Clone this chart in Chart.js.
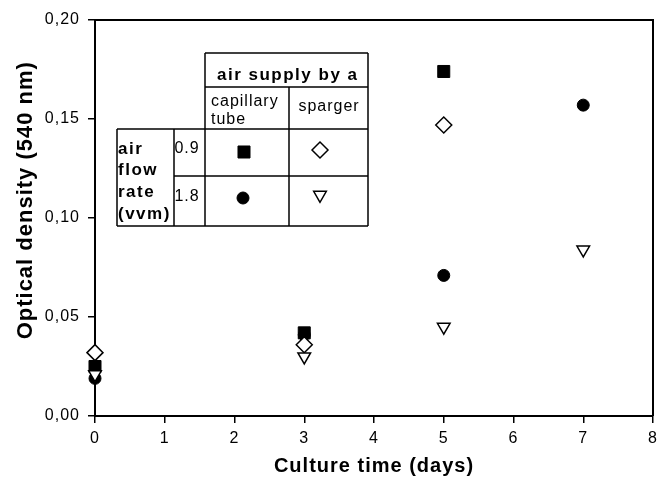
<!DOCTYPE html>
<html>
<head>
<meta charset="utf-8">
<script src="https://cdn.jsdelivr.net/npm/chart.js@4/dist/chart.umd.min.js"></script>
<style>
  html, body { margin: 0; padding: 0; background: #fff; }
  #wrap { width: 668px; height: 482px; }
</style>
</head>
<body>
<div id="wrap"><canvas id="odChart" width="668" height="482"></canvas></div>
<script>
// --- DATA ---
const days = [0, 3, 5, 7];
// 0.9 vvm, capillary tube (filled square)
const capillary09 = [0.025, 0.042, 0.174, null];
// 0.9 vvm, sparger (open diamond)
const sparger09 = [0.032, 0.036, 0.147, null];
// 1.8 vvm, capillary tube (filled circle) - day 3 hidden behind the square
const capillary18 = [0.019, 0.041, 0.071, 0.157];
// 1.8 vvm, sparger (open triangle down)
const sparger18 = [0.021, 0.030, 0.045, 0.084];

const xTicks = [0, 1, 2, 3, 4, 5, 6, 7, 8];
const yTicks = [0, 0.05, 0.10, 0.15, 0.20];

const headerLabel = "air supply by a";
const columnLabels = [["capillary", "tube"], ["sparger"]];
const rowTitle = ["air", "flow", "rate", "(vvm)"];
const rowLabels = ["0.9", "1.8"];

const FONT = "'Liberation Sans', Arial, sans-serif";

function points(vals) {
  return days
    .map((d, i) => ({ x: d, y: vals[i] }))
    .filter((p) => p.y !== null);
}

// marker styles, keyed by row/column of the legend table
const markers = {
  sq: { pointStyle: "rect", radius: 8.5, rotation: 0, fill: "#000", borderWidth: 1 },
  dia: { pointStyle: "rectRot", radius: 8, rotation: 0, fill: "#fff", borderWidth: 1.5 },
  circ: { pointStyle: "circle", radius: 6, rotation: 0, fill: "#000", borderWidth: 1 },
  tri: { pointStyle: "triangle", radius: 7.3, rotation: 180, fill: "#fff", borderWidth: 1.5 },
};

function ds(label, vals, m) {
  return {
    label,
    data: points(vals),
    pointStyle: m.pointStyle,
    pointRadius: m.radius,
    pointHoverRadius: m.radius,
    rotation: m.rotation,
    backgroundColor: m.fill,
    borderColor: "#000",
    pointBorderWidth: m.borderWidth,
    borderWidth: m.borderWidth,
    showLine: false,
    clip: false,
  };
}

// --- PLUGINS ---
const spacing = {
  id: "spacing",
  beforeUpdate(chart) { chart.ctx.letterSpacing = "1px"; },
  beforeDraw(chart) { chart.ctx.letterSpacing = "1px"; },
};

const frame = {
  id: "frame",
  afterDraw(chart) {
    const { ctx, chartArea: a } = chart;
    ctx.save();
    ctx.strokeStyle = "#000";
    ctx.lineWidth = 2;
    ctx.beginPath();
    ctx.moveTo(a.left, a.top);
    ctx.lineTo(a.right, a.top);
    ctx.lineTo(a.right, a.bottom);
    ctx.stroke();
    ctx.restore();
  },
};

const legendTable = {
  id: "legendTable",
  afterDraw(chart) {
    const ctx = chart.ctx;
    const X = [117, 174, 205, 289, 368];
    const Y = [53, 87, 129, 176, 226];
    ctx.save();
    ctx.strokeStyle = "#000";
    ctx.lineWidth = 1.5;
    const seg = (x1, y1, x2, y2) => {
      ctx.beginPath();
      ctx.moveTo(x1, y1);
      ctx.lineTo(x2, y2);
      ctx.stroke();
    };
    seg(X[2], Y[0], X[4], Y[0]);
    seg(X[2], Y[1], X[4], Y[1]);
    seg(X[0], Y[2], X[4], Y[2]);
    seg(X[1], Y[3], X[4], Y[3]);
    seg(X[0], Y[4], X[4], Y[4]);
    seg(X[0], Y[2], X[0], Y[4]);
    seg(X[1], Y[2], X[1], Y[4]);
    seg(X[2], Y[0], X[2], Y[4]);
    seg(X[3], Y[1], X[3], Y[4]);
    seg(X[4], Y[0], X[4], Y[4]);

    ctx.fillStyle = "#000";
    ctx.textBaseline = "middle";
    ctx.textAlign = "left";

    ctx.letterSpacing = "1.5px";
    ctx.font = "bold 17px " + FONT;
    ctx.fillText(headerLabel, 217, 75);

    ctx.letterSpacing = "1px";
    ctx.font = "16px " + FONT;
    columnLabels[0].forEach((t, i) => ctx.fillText(t, 211, 102 + i * 18));
    ctx.textAlign = "center";
    ctx.fillText(columnLabels[1][0], 329, 107);
    rowLabels.forEach((t, i) => ctx.fillText(t, 187, 149 + i * 48));

    ctx.textAlign = "left";
    ctx.letterSpacing = "1.5px";
    ctx.font = "bold 17px " + FONT;
    rowTitle.forEach((t, i) => ctx.fillText(t, 118, 149 + i * 21.7));

    const cells = [
      [markers.sq, 244, 152],
      [markers.dia, 320, 150],
      [markers.circ, 243, 198],
      [markers.tri, 320, 195],
    ];
    cells.forEach(([m, x, y]) => {
      ctx.fillStyle = m.fill;
      ctx.strokeStyle = "#000";
      ctx.lineWidth = m.borderWidth;
      Chart.helpers.drawPoint(ctx, {
        pointStyle: m.pointStyle,
        radius: m.radius,
        rotation: m.rotation,
        borderWidth: m.borderWidth,
      }, x, y);
    });
    ctx.restore();
  },
};

// --- CHART ---
function initChart() {
  const ctx = document.getElementById("odChart");
  new Chart(ctx, {
    type: "scatter",
    data: {
      // index 0 is drawn on top
      datasets: [
        ds("1.8 vvm sparger", sparger18, markers.tri),
        ds("0.9 vvm sparger", sparger09, markers.dia),
        ds("0.9 vvm capillary tube", capillary09, markers.sq),
        ds("1.8 vvm capillary tube", capillary18, markers.circ),
      ],
    },
    options: {
      responsive: false,
      animation: false,
      events: [],
      layout: { padding: { top: 20, right: 15, left: 0, bottom: 0 } },
      plugins: { legend: { display: false }, tooltip: { enabled: false } },
      scales: {
        x: {
          type: "linear",
          min: 0,
          max: 8,
          afterBuildTicks: (s) => { s.ticks = xTicks.map((v) => ({ value: v })); },
          afterFit: (s) => { s.height = 66; },
          ticks: { color: "#000", font: { family: FONT, size: 16 }, padding: 6, maxRotation: 0 },
          grid: { drawOnChartArea: false, drawTicks: true, tickLength: 7, color: "#000", lineWidth: 1.5 },
          border: { display: true, color: "#000", width: 2 },
          title: {
            display: true,
            text: "Culture time (days)",
            color: "#000",
            font: { family: FONT, size: 20, weight: "bold" },
            padding: { top: 0, bottom: 4 },
          },
        },
        y: {
          type: "linear",
          min: 0,
          max: 0.2,
          afterBuildTicks: (s) => { s.ticks = yTicks.map((v) => ({ value: v })); },
          afterFit: (s) => { s.width = 95; },
          ticks: {
            color: "#000",
            font: { family: FONT, size: 16 },
            padding: 8,
            callback: (v) => v.toFixed(2).replace(".", ","),
          },
          grid: { drawOnChartArea: false, drawTicks: true, tickLength: 7, color: "#000", lineWidth: 1.5 },
          border: { display: true, color: "#000", width: 2 },
          title: {
            display: true,
            // leading spaces lift the title a little above the axis centre, as in the original
            text: "\u00a0\u00a0\u00a0\u00a0\u00a0Optical density (540 nm)",
            color: "#000",
            font: { family: FONT, size: 22, weight: "bold" },
            padding: { top: 13, bottom: 0 },
          },
        },
      },
    },
    plugins: [spacing, frame, legendTable],
  });
}

document.addEventListener("DOMContentLoaded", initChart);
</script>
</body>
</html>
